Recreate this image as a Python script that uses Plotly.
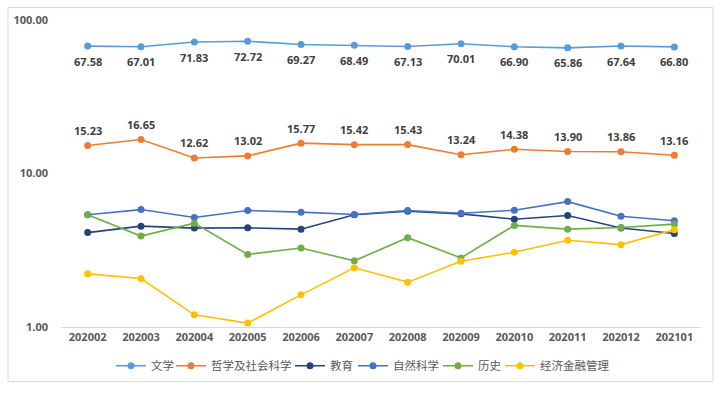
import math
import plotly.graph_objects as go

months = ["202002", "202003", "202004", "202005", "202006", "202007",
          "202008", "202009", "202010", "202011", "202012", "202101"]

wenxue = [67.58, 67.01, 71.83, 72.72, 69.27, 68.49, 67.13, 70.01, 66.90, 65.86, 67.64, 66.80]
zhexue = [15.23, 16.65, 12.62, 13.02, 15.77, 15.42, 15.43, 13.24, 14.38, 13.90, 13.86, 13.16]
jiaoyu = [4.12, 4.54, 4.41, 4.43, 4.34, 5.38, 5.68, 5.46, 5.04, 5.33, 4.41, 4.07]
ziran = [5.38, 5.82, 5.17, 5.74, 5.60, 5.41, 5.74, 5.51, 5.76, 6.56, 5.27, 4.92]
lishi = [5.38, 3.91, 4.75, 2.97, 3.27, 2.70, 3.82, 2.82, 4.59, 4.34, 4.45, 4.68]
jingji = [2.22, 2.07, 1.20, 1.06, 1.62, 2.43, 1.96, 2.68, 3.07, 3.67, 3.44, 4.30]

series_names = ["文学", "哲学及社会科学", "教育", "自然科学", "历史", "经济金融管理"]
series_values = [wenxue, zhexue, jiaoyu, ziran, lishi, jingji]
colors = ["#5B9BD5", "#ED7D31", "#264478", "#4472C4", "#70AD47", "#FFC000"]
label_shift = [-15, 15, None, None, None, None]

y_tickvals = [1, 10, 100]
y_ticktext = ["1.00", "10.00", "100.00"]

# legend entry left edges (pixels in the window) for each series
legend_left_px = [111, 171, 290, 353, 438, 500]
PLOT_L, PLOT_W = 61, 640

fig = go.Figure()
annotations = []
legend_layouts = {}
for i, (name, vals, col, shift) in enumerate(zip(series_names, series_values, colors, label_shift)):
    lg = "legend" if i == 0 else f"legend{i + 1}"
    fig.add_trace(go.Scatter(
        x=months, y=vals, name=name, mode="lines+markers",
        line=dict(color=col, width=1.6),
        marker=dict(color=col, size=7),
        cliponaxis=False, legend=lg))
    legend_layouts[lg] = dict(
        orientation="h", x=(legend_left_px[i] - PLOT_L) / PLOT_W, xanchor="left",
        y=-0.126, yanchor="middle", bgcolor="rgba(0,0,0,0)",
        font=dict(family="Noto Sans CJK SC", size=11.5, color="#595959"),
        itemwidth=30)
    if shift is not None:
        for k, v in enumerate(vals):
            # category axis: annotation x is the category index
            annotations.append(dict(
                x=k, y=math.log10(v), xref="x", yref="y", text=f"{v:.2f}",
                showarrow=False, yshift=shift,
                font=dict(family="Open Sans", size=11, color="#404040", weight="bold")))

fig.update_layout(
    width=722, height=397,
    margin=dict(l=61, r=21, t=18, b=70),
    paper_bgcolor="white", plot_bgcolor="white",
    showlegend=True,
    annotations=annotations,
    xaxis=dict(type="category", showgrid=False, zeroline=False,
               showline=True, linecolor="#D9D9D9", linewidth=1,
               ticks="", tickfont=dict(family="Open Sans", size=11, color="#595959", weight="bold"),
               range=[-0.5, 11.5]),
    yaxis=dict(type="log", range=[0, 2], tickvals=y_tickvals, ticktext=y_ticktext,
               showgrid=False, zeroline=False, showline=False, ticks="",
               ticklabelstandoff=12,
               tickfont=dict(family="Open Sans", size=11, color="#595959", weight="bold")),
    shapes=[dict(type="rect", xref="paper", yref="paper",
                 x0=-0.0828, x1=1.01875, y0=-0.178, y1=1.0405,
                 line=dict(color="#D9D9D9", width=1), fillcolor="rgba(0,0,0,0)")],
    **legend_layouts,
)

fig.write_html("out.html", config={"displayModeBar": False},
               post_script="document.body.style.margin='0';document.body.style.overflow='hidden';")
